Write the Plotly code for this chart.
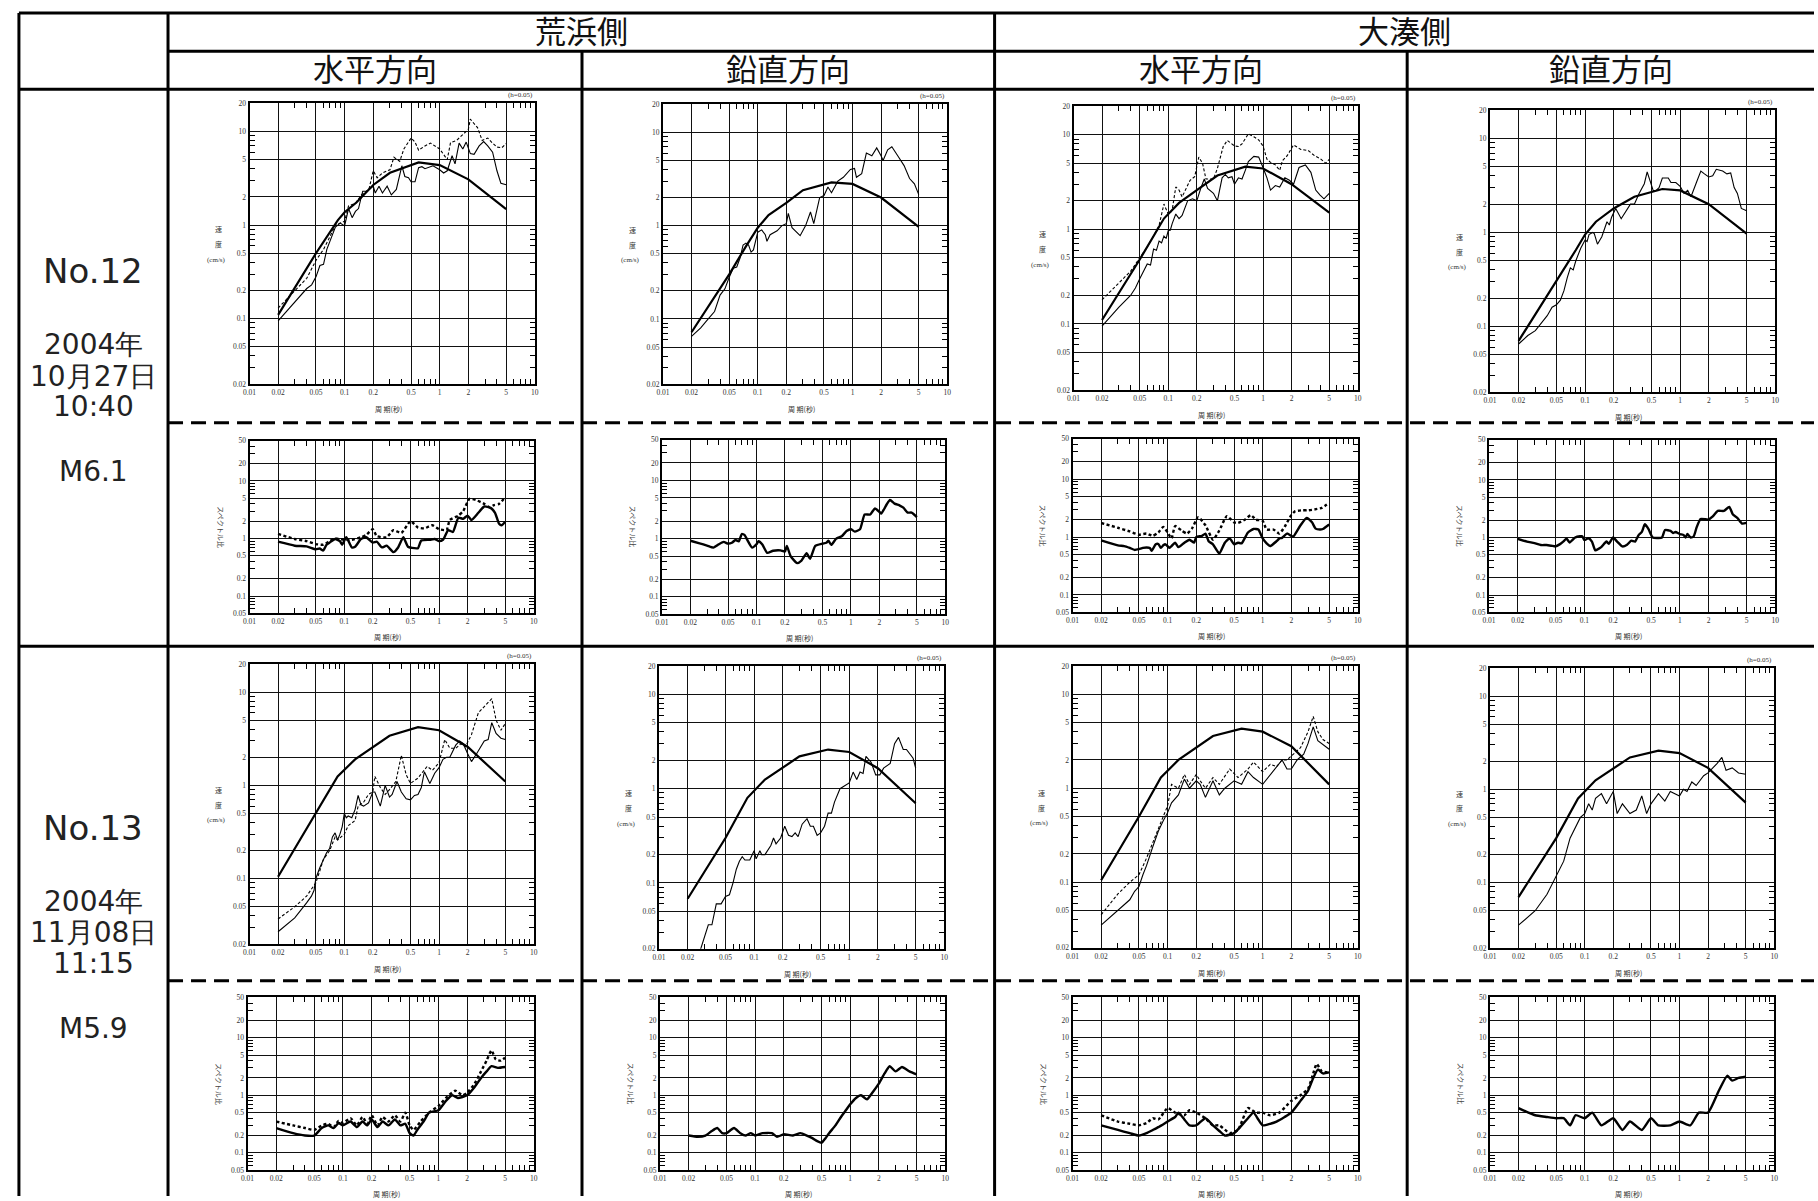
import math
import plotly.graph_objects as go

W, H = 1818, 1201

# ---------------- text ----------------
SIDES = ["荒浜側", "大湊側"]
DIRECTIONS = ["水平方向", "鉛直方向", "水平方向", "鉛直方向"]
EVENT_12 = ["No.12", "2004年", "10月27日", "10:40", "M6.1"]
EVENT_13 = ["No.13", "2004年", "11月08日", "11:15", "M5.9"]
DAMPING = "(h=0.05)"
X_TITLE = "周 期(秒)"
RATIO_TITLE = "スペクトル比"
VEL_TITLE = ["速", "度", "(cm/s)"]

X_TICKS = [0.01, 0.02, 0.05, 0.1, 0.2, 0.5, 1, 2, 5, 10]
X_TICK_TEXT = ["0.01", "0.02", "0.05", "0.1", "0.2", "0.5", "1", "2", "5", "10"]
SPEC_Y_TICKS = [0.02, 0.05, 0.1, 0.2, 0.5, 1, 2, 5, 10, 20]
SPEC_Y_TEXT = ["0.02", "0.05", "0.1", "0.2", "0.5", "1", "2", "5", "10", "20"]
RATIO_Y_TICKS = [0.05, 0.1, 0.2, 0.5, 1, 2, 5, 10, 20, 50]
RATIO_Y_TEXT = ["0.05", "0.1", "0.2", "0.5", "1", "2", "5", "10", "20", "50"]

# ---------------- data: (period [s], value) ----------------
# No.12  荒浜側 水平
E12_AH_DESIGN = [(0.02, 0.11), (0.05, 0.5), (0.085, 1.13), (0.1, 1.37), (0.133, 1.74), (0.2, 2.68),
                 (0.3, 3.62), (0.6, 4.66), (1.0, 4.37), (2.0, 3.08), (5.0, 1.48)]
E12_AH_OBS1 = [(0.02, 0.095), (0.03, 0.15), (0.04, 0.21), (0.045, 0.23), (0.05, 0.28), (0.055, 0.37),
               (0.06, 0.38), (0.065, 0.55), (0.07, 0.68), (0.08, 0.95), (0.09, 1.05), (0.1, 0.98),
               (0.11, 1.5), (0.12, 1.2), (0.13, 1.4), (0.14, 1.5), (0.155, 2.3), (0.17, 2.3), (0.2, 2.6),
               (0.21, 2.2), (0.23, 2.6), (0.25, 2.2), (0.28, 2.6), (0.31, 2.1), (0.35, 2.4), (0.4, 4.3),
               (0.43, 3.3), (0.47, 3.2), (0.5, 2.9), (0.55, 2.9), (0.6, 4.1), (0.65, 4.2), (0.7, 4.0),
               (0.85, 4.3), (1.0, 3.9), (1.1, 3.6), (1.2, 3.8), (1.35, 5.5), (1.45, 4.5), (1.6, 7.5),
               (1.75, 6.5), (1.9, 7.7), (2.1, 5.8), (2.3, 5.7), (2.6, 7.0), (2.9, 7.8), (3.2, 7.0),
               (3.6, 6.0), (4.0, 3.8), (4.4, 2.8), (5.0, 2.7)]
E12_AH_OBS2 = [(0.02, 0.13), (0.03, 0.2), (0.04, 0.27), (0.05, 0.42), (0.06, 0.55), (0.07, 0.75),
               (0.08, 1.0), (0.09, 1.05), (0.1, 1.1), (0.11, 1.6), (0.13, 1.7), (0.15, 2.1), (0.18, 2.4),
               (0.2, 3.8), (0.22, 3.2), (0.25, 3.6), (0.3, 3.9), (0.33, 5.3), (0.38, 4.8), (0.42, 6.5),
               (0.5, 8.5), (0.55, 7.7), (0.6, 6.3), (0.7, 7.0), (0.8, 7.5), (1.0, 6.5), (1.1, 5.7),
               (1.2, 5.0), (1.3, 7.6), (1.5, 8.0), (1.7, 9.0), (2.0, 10.5), (2.1, 13.5), (2.5, 11.0),
               (2.8, 8.0), (3.2, 8.5), (3.6, 7.5), (4.0, 6.8), (4.5, 6.7), (5.0, 7.4)]
E12_AH_RATIO1 = [(0.02, 0.88), (0.03, 0.75), (0.04, 0.73), (0.05, 0.65), (0.055, 0.67), (0.06, 0.62),
                 (0.065, 0.78), (0.07, 0.85), (0.08, 0.98), (0.09, 0.9), (0.095, 0.78), (0.105, 1.05),
                 (0.12, 0.7), (0.13, 0.72), (0.15, 0.98), (0.17, 1.05), (0.2, 0.85), (0.22, 0.88),
                 (0.25, 0.7), (0.28, 0.75), (0.33, 0.58), (0.37, 0.7), (0.42, 1.05), (0.47, 0.72),
                 (0.55, 0.68), (0.6, 0.68), (0.65, 0.92), (0.8, 0.95), (0.9, 0.98), (1.0, 0.9),
                 (1.1, 0.95), (1.25, 1.4), (1.4, 1.3), (1.6, 2.3), (1.8, 2.2), (2.0, 2.5), (2.2, 2.1),
                 (2.6, 2.8), (3.0, 3.6), (3.5, 3.4), (3.9, 2.8), (4.3, 1.8), (4.6, 1.7), (5.0, 1.95)]
E12_AH_RATIO2 = [(0.02, 1.2), (0.03, 0.98), (0.04, 0.9), (0.05, 0.8), (0.06, 0.78), (0.07, 0.9),
                 (0.08, 1.0), (0.1, 0.95), (0.12, 0.95), (0.15, 1.05), (0.17, 1.15), (0.2, 1.45),
                 (0.22, 1.1), (0.28, 1.05), (0.33, 1.4), (0.4, 1.25), (0.5, 2.0), (0.6, 1.55), (0.7, 1.5),
                 (0.85, 1.7), (1.0, 1.45), (1.2, 1.4), (1.3, 2.1), (1.6, 2.5), (1.8, 3.0), (2.1, 4.9),
                 (2.5, 4.6), (3.0, 4.0), (3.4, 3.5), (3.8, 3.8), (4.3, 4.0), (5.0, 5.2)]

# No.12  荒浜側 鉛直
E12_AV_DESIGN = [(0.02, 0.072), (0.05, 0.30), (0.075, 0.6), (0.1, 0.95), (0.13, 1.3), (0.2, 1.75),
                 (0.3, 2.4), (0.6, 2.9), (1.0, 2.8), (2.0, 2.0), (5.0, 0.97)]
E12_AV_OBS1 = [(0.02, 0.065), (0.025, 0.08), (0.03, 0.1), (0.035, 0.12), (0.04, 0.18), (0.045, 0.21),
               (0.05, 0.28), (0.055, 0.35), (0.06, 0.36), (0.065, 0.45), (0.07, 0.62), (0.075, 0.65),
               (0.08, 0.62), (0.085, 0.52), (0.09, 0.55), (0.1, 0.85), (0.11, 0.9), (0.12, 0.8),
               (0.125, 0.68), (0.135, 0.8), (0.16, 0.88), (0.18, 1.0), (0.2, 1.05), (0.21, 1.35),
               (0.23, 0.95), (0.25, 0.88), (0.28, 0.78), (0.32, 1.0), (0.36, 1.4), (0.39, 1.05),
               (0.45, 2.0), (0.5, 2.1), (0.55, 2.6), (0.6, 2.25), (0.7, 3.0), (0.8, 3.3), (0.95, 4.0),
               (1.05, 4.1), (1.1, 3.3), (1.25, 3.6), (1.4, 6.0), (1.6, 5.6), (1.8, 6.8), (2.0, 5.6),
               (2.1, 5.0), (2.35, 6.5), (2.6, 7.0), (3.0, 5.6), (3.5, 4.4), (4.0, 3.2), (4.5, 2.8),
               (5.0, 2.15)]
E12_AV_RATIO1 = [(0.02, 0.92), (0.025, 0.83), (0.03, 0.76), (0.035, 0.7), (0.04, 0.8), (0.045, 0.88),
                 (0.05, 0.82), (0.055, 0.85), (0.06, 0.95), (0.065, 0.9), (0.07, 1.2), (0.075, 1.15),
                 (0.08, 0.95), (0.09, 0.7), (0.1, 0.8), (0.105, 0.9), (0.115, 0.8), (0.13, 0.57),
                 (0.15, 0.62), (0.18, 0.63), (0.2, 0.6), (0.21, 0.75), (0.23, 0.5), (0.27, 0.38),
                 (0.3, 0.42), (0.34, 0.56), (0.37, 0.45), (0.42, 0.75), (0.5, 0.82), (0.55, 0.85),
                 (0.58, 0.92), (0.62, 0.78), (0.7, 1.0), (0.8, 1.1), (0.9, 1.35), (1.0, 1.45),
                 (1.1, 1.32), (1.25, 1.45), (1.4, 2.6), (1.6, 2.6), (1.8, 3.3), (2.0, 2.9), (2.1, 2.7),
                 (2.4, 3.9), (2.6, 4.6), (2.9, 4.0), (3.3, 3.7), (3.6, 3.4), (4.0, 2.8), (4.4, 2.8),
                 (5.0, 2.35)]

# No.12  大湊側 水平
E12_OH_DESIGN = [(0.02, 0.11), (0.05, 0.48), (0.09, 1.3), (0.13, 1.9), (0.2, 2.6), (0.33, 3.7),
                 (0.65, 4.6), (1.0, 4.4), (2.0, 3.0), (5.0, 1.5)]
E12_OH_OBS1 = [(0.02, 0.095), (0.03, 0.15), (0.04, 0.2), (0.045, 0.24), (0.05, 0.3), (0.055, 0.37),
               (0.06, 0.43), (0.065, 0.42), (0.07, 0.62), (0.075, 0.6), (0.08, 0.75), (0.085, 0.72),
               (0.09, 0.85), (0.095, 0.8), (0.1, 0.97), (0.105, 0.98), (0.11, 1.15), (0.12, 1.45),
               (0.13, 1.3), (0.14, 1.4), (0.16, 2.0), (0.18, 2.1), (0.2, 2.0), (0.22, 2.7), (0.24, 3.4),
               (0.26, 2.7), (0.3, 2.4), (0.33, 2.0), (0.37, 3.5), (0.4, 3.8), (0.43, 3.5), (0.47, 3.6),
               (0.5, 3.0), (0.55, 3.5), (0.6, 3.4), (0.65, 4.2), (0.7, 5.2), (0.8, 5.9), (0.9, 5.8),
               (1.0, 4.5), (1.1, 3.5), (1.2, 2.6), (1.35, 2.9), (1.5, 2.8), (1.7, 3.5), (1.9, 3.3),
               (2.1, 3.0), (2.4, 4.5), (2.8, 4.8), (3.2, 4.0), (3.6, 2.6), (4.0, 2.3), (4.4, 2.1),
               (5.0, 2.4)]
E12_OH_OBS2 = [(0.02, 0.18), (0.03, 0.27), (0.04, 0.36), (0.05, 0.5), (0.06, 0.65), (0.07, 0.85),
               (0.08, 1.1), (0.09, 1.85), (0.1, 1.45), (0.105, 1.5), (0.11, 1.6), (0.12, 2.8),
               (0.13, 2.6), (0.14, 2.2), (0.17, 3.3), (0.19, 3.6), (0.21, 5.8), (0.23, 5.0), (0.25, 3.4),
               (0.3, 3.4), (0.33, 4.4), (0.38, 7.5), (0.42, 8.7), (0.5, 7.6), (0.55, 7.5), (0.6, 8.0),
               (0.7, 10.2), (0.8, 9.5), (0.9, 8.8), (1.0, 7.6), (1.1, 5.5), (1.2, 5.1), (1.35, 4.8),
               (1.5, 4.2), (1.6, 5.3), (1.8, 6.0), (2.1, 7.8), (2.5, 7.0), (3.0, 6.8), (3.5, 6.0),
               (4.0, 5.6), (4.6, 5.0), (5.0, 5.5)]
E12_OH_RATIO1 = [(0.02, 0.88), (0.03, 0.72), (0.035, 0.7), (0.04, 0.65), (0.045, 0.6), (0.05, 0.62),
                 (0.055, 0.65), (0.06, 0.66), (0.065, 0.65), (0.068, 0.58), (0.075, 0.75), (0.08, 0.76),
                 (0.085, 0.65), (0.09, 0.72), (0.095, 0.75), (0.105, 0.65), (0.11, 0.7), (0.12, 0.8),
                 (0.13, 0.67), (0.15, 0.8), (0.17, 0.9), (0.19, 0.8), (0.2, 1.0), (0.23, 1.05),
                 (0.25, 1.15), (0.27, 0.85), (0.3, 0.75), (0.35, 0.52), (0.4, 0.8), (0.45, 0.95),
                 (0.5, 0.75), (0.55, 0.8), (0.6, 0.78), (0.7, 1.2), (0.8, 1.38), (0.9, 1.35), (1.0, 0.95),
                 (1.1, 0.78), (1.2, 0.7), (1.4, 0.85), (1.5, 0.95), (1.6, 0.97), (1.8, 1.15), (2.0, 1.05),
                 (2.1, 1.02), (2.5, 1.6), (2.9, 2.15), (3.3, 1.8), (3.6, 1.4), (4.0, 1.35), (4.3, 1.38),
                 (5.0, 1.65)]
E12_OH_RATIO2 = [(0.02, 1.75), (0.03, 1.45), (0.04, 1.25), (0.05, 1.1), (0.06, 1.15), (0.07, 1.05),
                 (0.08, 1.2), (0.09, 1.5), (0.1, 1.2), (0.11, 0.95), (0.12, 1.55), (0.14, 1.3),
                 (0.16, 1.15), (0.18, 1.4), (0.21, 2.2), (0.25, 1.6), (0.3, 0.9), (0.35, 1.3), (0.42, 2.3),
                 (0.5, 1.8), (0.55, 1.75), (0.65, 2.0), (0.75, 2.4), (0.85, 2.0), (1.0, 1.9), (1.1, 1.35),
                 (1.3, 1.35), (1.5, 1.15), (1.7, 1.5), (2.0, 2.4), (2.2, 2.8), (2.6, 2.9), (3.0, 2.9),
                 (3.5, 3.0), (4.2, 3.2), (5.0, 3.9)]

# No.12  大湊側 鉛直
E12_OV_DESIGN = [(0.02, 0.07), (0.05, 0.3), (0.08, 0.65), (0.1, 0.95), (0.13, 1.3), (0.2, 1.8),
                 (0.33, 2.4), (0.65, 2.9), (1.0, 2.8), (2.0, 2.0), (5.0, 0.97)]
E12_OV_OBS1 = [(0.02, 0.065), (0.025, 0.08), (0.03, 0.09), (0.035, 0.11), (0.04, 0.13), (0.045, 0.16),
               (0.05, 0.17), (0.055, 0.19), (0.06, 0.24), (0.065, 0.33), (0.07, 0.42), (0.075, 0.4),
               (0.08, 0.5), (0.09, 0.68), (0.1, 0.83), (0.105, 0.8), (0.11, 0.95), (0.12, 1.0),
               (0.125, 0.97), (0.135, 0.75), (0.15, 0.9), (0.17, 1.3), (0.18, 1.2), (0.19, 1.45),
               (0.21, 1.8), (0.24, 1.4), (0.27, 1.7), (0.3, 2.0), (0.33, 2.0), (0.37, 2.6), (0.42, 3.3),
               (0.45, 4.4), (0.48, 3.6), (0.52, 2.8), (0.56, 2.8), (0.6, 3.0), (0.65, 3.8), (0.75, 3.8),
               (0.8, 3.4), (0.9, 3.4), (1.0, 3.1), (1.1, 2.6), (1.2, 2.8), (1.3, 2.4), (1.5, 3.5),
               (1.65, 4.5), (1.8, 4.2), (2.0, 3.9), (2.2, 4.0), (2.4, 4.7), (2.8, 4.5), (3.1, 4.2),
               (3.4, 4.3), (3.7, 3.0), (4.0, 2.6), (4.4, 1.8), (5.0, 1.7)]
E12_OV_RATIO1 = [(0.02, 0.95), (0.025, 0.85), (0.03, 0.8), (0.035, 0.74), (0.04, 0.74), (0.045, 0.72),
                 (0.05, 0.7), (0.055, 0.76), (0.06, 0.85), (0.065, 0.95), (0.07, 0.82), (0.08, 1.0),
                 (0.09, 1.05), (0.095, 1.05), (0.1, 0.9), (0.11, 0.97), (0.12, 0.85), (0.13, 0.6),
                 (0.15, 0.68), (0.17, 0.85), (0.18, 0.78), (0.2, 1.0), (0.22, 0.85), (0.25, 0.7),
                 (0.28, 0.75), (0.31, 0.88), (0.34, 0.85), (0.37, 1.1), (0.4, 1.25), (0.43, 1.7),
                 (0.47, 1.4), (0.52, 1.0), (0.6, 0.98), (0.65, 1.0), (0.7, 1.35), (0.8, 1.3), (0.85, 1.2),
                 (0.9, 1.25), (1.0, 1.15), (1.1, 1.1), (1.15, 1.0), (1.2, 1.15), (1.3, 1.0), (1.4, 1.05),
                 (1.5, 1.5), (1.65, 2.1), (2.0, 2.05), (2.2, 2.3), (2.5, 2.9), (2.9, 2.9), (3.3, 3.4),
                 (3.6, 2.5), (4.0, 2.2), (4.5, 1.75), (5.0, 1.8)]

# No.13  荒浜側 水平
E13_AH_DESIGN = [(0.02, 0.105), (0.05, 0.5), (0.085, 1.25), (0.13, 1.9), (0.3, 3.4), (0.6, 4.2),
                 (1.0, 3.9), (2.0, 2.6), (5.0, 1.1)]
E13_AH_OBS1 = [(0.02, 0.027), (0.03, 0.038), (0.04, 0.055), (0.045, 0.065), (0.048, 0.075), (0.05, 0.1),
               (0.055, 0.13), (0.06, 0.16), (0.065, 0.19), (0.07, 0.21), (0.075, 0.28), (0.08, 0.31),
               (0.085, 0.26), (0.09, 0.3), (0.095, 0.36), (0.1, 0.5), (0.105, 0.45), (0.11, 0.47),
               (0.12, 0.45), (0.13, 0.55), (0.14, 0.78), (0.15, 0.62), (0.16, 0.6), (0.18, 0.65),
               (0.2, 0.85), (0.21, 0.85), (0.24, 0.6), (0.27, 1.0), (0.3, 0.75), (0.32, 0.8), (0.36, 1.1),
               (0.4, 0.85), (0.45, 0.72), (0.5, 0.7), (0.55, 0.78), (0.6, 0.8), (0.65, 0.95), (0.7, 1.4),
               (0.75, 1.2), (0.8, 1.05), (0.9, 1.35), (1.0, 1.55), (1.1, 1.9), (1.2, 2.0), (1.3, 2.0),
               (1.5, 2.7), (1.65, 3.0), (1.8, 2.8), (2.0, 2.2), (2.2, 1.8), (2.5, 2.2), (3.0, 3.0),
               (3.3, 3.1), (3.6, 4.7), (4.0, 3.6), (4.5, 3.2), (5.0, 3.1)]
E13_AH_OBS2 = [(0.02, 0.037), (0.03, 0.05), (0.04, 0.065), (0.05, 0.09), (0.055, 0.12), (0.06, 0.16),
               (0.07, 0.2), (0.08, 0.28), (0.085, 0.26), (0.1, 0.3), (0.11, 0.37), (0.12, 0.4),
               (0.13, 0.42), (0.14, 0.6), (0.16, 0.66), (0.18, 0.8), (0.2, 0.85), (0.21, 1.25),
               (0.24, 0.95), (0.27, 0.8), (0.3, 0.9), (0.35, 1.1), (0.4, 2.1), (0.45, 1.3), (0.5, 1.05),
               (0.6, 1.2), (0.75, 1.6), (0.85, 1.45), (1.0, 1.75), (1.15, 3.1), (1.3, 2.5), (1.5, 2.5),
               (1.7, 2.8), (1.9, 2.6), (2.2, 3.5), (2.6, 6.0), (3.0, 7.0), (3.6, 8.5), (4.0, 5.0),
               (4.5, 3.9), (5.0, 4.6)]
E13_AH_RATIO1 = [(0.02, 0.27), (0.03, 0.22), (0.04, 0.2), (0.05, 0.2), (0.06, 0.27), (0.07, 0.3),
                 (0.08, 0.27), (0.09, 0.33), (0.1, 0.3), (0.12, 0.35), (0.14, 0.28), (0.16, 0.35),
                 (0.18, 0.3), (0.2, 0.38), (0.23, 0.28), (0.26, 0.35), (0.3, 0.3), (0.35, 0.38),
                 (0.4, 0.3), (0.45, 0.32), (0.5, 0.22), (0.55, 0.2), (0.6, 0.25), (0.7, 0.35),
                 (0.8, 0.5), (1.0, 0.55), (1.2, 0.8), (1.4, 1.0), (1.6, 0.9), (2.0, 1.0), (2.4, 1.4),
                 (2.8, 2.0), (3.2, 2.6), (3.6, 3.2), (4.2, 3.0), (5.0, 3.1)]
E13_AH_RATIO2 = [(0.02, 0.35), (0.03, 0.3), (0.04, 0.27), (0.05, 0.25), (0.06, 0.3), (0.07, 0.32),
                 (0.08, 0.28), (0.09, 0.36), (0.1, 0.33), (0.12, 0.4), (0.14, 0.3), (0.16, 0.42),
                 (0.18, 0.32), (0.2, 0.45), (0.23, 0.3), (0.26, 0.42), (0.3, 0.35), (0.35, 0.45),
                 (0.4, 0.35), (0.45, 0.5), (0.5, 0.3), (0.55, 0.25), (0.65, 0.35), (0.8, 0.5),
                 (1.0, 0.65), (1.2, 0.9), (1.5, 1.2), (1.8, 1.0), (2.0, 1.1), (2.4, 1.6), (2.8, 2.6),
                 (3.2, 4.0), (3.6, 6.0), (4.0, 4.2), (4.5, 4.0), (5.0, 4.5)]

# No.13  荒浜側 鉛直
E13_AV_DESIGN = [(0.02, 0.068), (0.05, 0.3), (0.085, 0.8), (0.13, 1.25), (0.3, 2.2), (0.6, 2.6),
                 (1.0, 2.45), (2.0, 1.65), (5.0, 0.7)]
E13_AV_OBS1 = [(0.027, 0.019), (0.03, 0.027), (0.033, 0.036), (0.036, 0.036), (0.04, 0.06), (0.045, 0.06),
               (0.05, 0.072), (0.055, 0.075), (0.06, 0.1), (0.065, 0.14), (0.07, 0.17), (0.075, 0.19),
               (0.08, 0.175), (0.09, 0.175), (0.1, 0.22), (0.105, 0.18), (0.115, 0.22), (0.12, 0.2),
               (0.13, 0.2), (0.15, 0.25), (0.16, 0.3), (0.17, 0.26), (0.19, 0.3), (0.21, 0.4),
               (0.23, 0.32), (0.25, 0.31), (0.27, 0.34), (0.29, 0.31), (0.32, 0.42), (0.36, 0.48),
               (0.39, 0.4), (0.42, 0.4), (0.46, 0.32), (0.5, 0.34), (0.55, 0.4), (0.6, 0.55),
               (0.65, 0.55), (0.7, 0.72), (0.8, 1.0), (1.0, 1.15), (1.1, 1.5), (1.2, 1.25), (1.3, 1.5),
               (1.4, 1.45), (1.5, 2.2), (1.7, 1.9), (1.9, 1.4), (2.1, 1.4), (2.3, 1.65), (2.7, 1.85),
               (3.0, 3.0), (3.3, 3.5), (3.7, 2.6), (4.0, 2.6), (4.4, 2.3), (4.7, 2.1), (5.0, 1.65)]
E13_AV_RATIO1 = [(0.02, 0.2), (0.025, 0.19), (0.03, 0.2), (0.035, 0.24), (0.04, 0.27), (0.045, 0.22),
                 (0.05, 0.22), (0.06, 0.27), (0.07, 0.22), (0.08, 0.2), (0.09, 0.22), (0.1, 0.2),
                 (0.12, 0.22), (0.15, 0.22), (0.17, 0.19), (0.2, 0.21), (0.25, 0.2), (0.3, 0.22),
                 (0.35, 0.2), (0.4, 0.18), (0.45, 0.16), (0.5, 0.15), (0.55, 0.18), (0.6, 0.22),
                 (0.7, 0.3), (0.8, 0.42), (0.9, 0.55), (1.0, 0.7), (1.15, 0.9), (1.3, 1.0), (1.5, 0.85),
                 (1.7, 1.1), (2.0, 1.6), (2.3, 2.4), (2.6, 3.2), (3.0, 2.6), (3.5, 3.1), (4.2, 2.6),
                 (5.0, 2.3)]

# No.13  大湊側 水平
E13_OH_DESIGN = [(0.02, 0.105), (0.05, 0.5), (0.085, 1.3), (0.13, 2.0), (0.3, 3.6), (0.6, 4.3),
                 (1.0, 4.0), (2.0, 2.8), (5.0, 1.1)]
E13_OH_OBS1 = [(0.02, 0.035), (0.03, 0.05), (0.04, 0.065), (0.045, 0.08), (0.05, 0.09), (0.055, 0.12),
               (0.06, 0.15), (0.07, 0.24), (0.08, 0.35), (0.09, 0.45), (0.1, 0.55), (0.11, 0.7),
               (0.13, 0.85), (0.15, 1.25), (0.17, 1.0), (0.2, 1.2), (0.22, 1.1), (0.25, 0.8), (0.3, 1.2),
               (0.35, 0.85), (0.4, 1.0), (0.5, 1.2), (0.6, 1.1), (0.7, 1.5), (0.8, 1.3), (1.0, 1.1),
               (1.2, 1.4), (1.4, 1.7), (1.6, 2.0), (1.8, 1.6), (2.0, 1.6), (2.3, 2.0), (2.7, 2.3),
               (3.0, 3.0), (3.4, 4.5), (3.8, 3.2), (4.3, 2.9), (5.0, 2.6)]
E13_OH_OBS2 = [(0.02, 0.045), (0.03, 0.075), (0.04, 0.1), (0.05, 0.12), (0.06, 0.18), (0.07, 0.27),
               (0.08, 0.38), (0.09, 0.5), (0.1, 0.65), (0.11, 1.1), (0.13, 1.0), (0.15, 1.4),
               (0.17, 1.1), (0.2, 1.4), (0.22, 1.2), (0.25, 1.0), (0.3, 1.3), (0.35, 1.1), (0.45, 1.6),
               (0.55, 1.3), (0.7, 1.6), (0.8, 1.9), (1.0, 1.5), (1.2, 1.8), (1.4, 1.7), (1.6, 2.0),
               (1.8, 2.0), (2.1, 2.3), (2.5, 2.7), (3.0, 4.0), (3.4, 5.8), (3.8, 4.0), (4.3, 3.3),
               (5.0, 3.0)]
E13_OH_RATIO1 = [(0.02, 0.3), (0.03, 0.25), (0.04, 0.22), (0.05, 0.2), (0.06, 0.22), (0.07, 0.25),
                 (0.08, 0.28), (0.1, 0.35), (0.12, 0.42), (0.13, 0.5), (0.15, 0.38), (0.17, 0.3),
                 (0.2, 0.3), (0.25, 0.4), (0.3, 0.3), (0.35, 0.24), (0.4, 0.2), (0.5, 0.22), (0.6, 0.3),
                 (0.7, 0.4), (0.8, 0.5), (0.9, 0.38), (1.0, 0.3), (1.2, 0.32), (1.4, 0.35), (1.7, 0.42),
                 (2.0, 0.5), (2.5, 0.8), (3.0, 1.2), (3.4, 2.0), (3.8, 2.8), (4.3, 2.4), (5.0, 2.5)]
E13_OH_RATIO2 = [(0.02, 0.45), (0.03, 0.35), (0.04, 0.32), (0.05, 0.3), (0.06, 0.33), (0.07, 0.4),
                 (0.08, 0.38), (0.1, 0.6), (0.12, 0.5), (0.15, 0.45), (0.17, 0.55), (0.2, 0.5),
                 (0.25, 0.4), (0.3, 0.3), (0.35, 0.3), (0.45, 0.22), (0.55, 0.25), (0.7, 0.6),
                 (0.85, 0.5), (1.0, 0.5), (1.2, 0.45), (1.5, 0.5), (2.0, 0.8), (2.5, 1.0), (3.0, 1.3),
                 (3.4, 2.4), (3.7, 3.5), (4.2, 2.6), (5.0, 2.5)]

# No.13  大湊側 鉛直
E13_OV_DESIGN = [(0.02, 0.07), (0.05, 0.3), (0.085, 0.8), (0.13, 1.25), (0.3, 2.2), (0.6, 2.6),
                 (1.0, 2.45), (2.0, 1.7), (5.0, 0.72)]
E13_OV_OBS1 = [(0.02, 0.035), (0.03, 0.05), (0.04, 0.075), (0.05, 0.12), (0.06, 0.17), (0.07, 0.3),
               (0.08, 0.4), (0.09, 0.5), (0.1, 0.55), (0.11, 0.7), (0.12, 0.6), (0.13, 0.8), (0.15, 0.9),
               (0.17, 0.7), (0.2, 0.95), (0.22, 0.55), (0.25, 0.7), (0.3, 0.55), (0.35, 0.6),
               (0.4, 0.85), (0.45, 0.55), (0.5, 0.7), (0.6, 0.9), (0.7, 0.75), (0.8, 0.95), (1.0, 0.85),
               (1.1, 1.0), (1.2, 0.95), (1.35, 1.2), (1.5, 1.1), (1.8, 1.4), (2.0, 1.5), (2.5, 1.9),
               (2.8, 2.2), (3.1, 1.6), (3.6, 1.7), (4.2, 1.5), (5.0, 1.45)]
E13_OV_RATIO1 = [(0.02, 0.6), (0.03, 0.45), (0.04, 0.42), (0.05, 0.4), (0.06, 0.4), (0.07, 0.3),
                 (0.08, 0.45), (0.1, 0.4), (0.12, 0.5), (0.15, 0.3), (0.2, 0.4), (0.25, 0.25),
                 (0.3, 0.35), (0.4, 0.25), (0.5, 0.4), (0.6, 0.3), (0.8, 0.3), (1.0, 0.35), (1.3, 0.3),
                 (1.6, 0.5), (2.0, 0.5), (2.6, 1.2), (3.2, 2.2), (3.6, 1.8), (4.2, 2.0), (5.0, 2.1)]

# ---------------- layout geometry (pixels) ----------------
SPEC_BOX = {
    (0, 0): (244, 531, 100, 383), (0, 1): (660, 946, 101, 383),
    (0, 2): (1073, 1359, 103, 389), (0, 3): (1492, 1779, 107, 391),
    (1, 0): (244, 530, 665, 947), (1, 1): (656, 943, 667, 952),
    (1, 2): (1072, 1359, 667, 951), (1, 3): (1492, 1778, 669, 951),
}
RATIO_BOX = {
    (0, 0): (244, 530, 440, 614), (0, 1): (659, 944, 439, 615),
    (0, 2): (1072, 1359, 438, 613), (0, 3): (1491, 1779, 439, 613),
    (1, 0): (242, 530, 1001, 1175), (1, 1): (657, 944, 1001, 1175),
    (1, 2): (1072, 1359, 1001, 1175), (1, 3): (1492, 1778, 1001, 1175),
}

SPEC_SERIES = {
    (0, 0): (E12_AH_DESIGN, E12_AH_OBS1, E12_AH_OBS2),
    (0, 1): (E12_AV_DESIGN, E12_AV_OBS1, None),
    (0, 2): (E12_OH_DESIGN, E12_OH_OBS1, E12_OH_OBS2),
    (0, 3): (E12_OV_DESIGN, E12_OV_OBS1, None),
    (1, 0): (E13_AH_DESIGN, E13_AH_OBS1, E13_AH_OBS2),
    (1, 1): (E13_AV_DESIGN, E13_AV_OBS1, None),
    (1, 2): (E13_OH_DESIGN, E13_OH_OBS1, E13_OH_OBS2),
    (1, 3): (E13_OV_DESIGN, E13_OV_OBS1, None),
}
RATIO_SERIES = {
    (0, 0): (E12_AH_RATIO1, E12_AH_RATIO2),
    (0, 1): (E12_AV_RATIO1, None),
    (0, 2): (E12_OH_RATIO1, E12_OH_RATIO2),
    (0, 3): (E12_OV_RATIO1, None),
    (1, 0): (E13_AH_RATIO1, E13_AH_RATIO2),
    (1, 1): (E13_AV_RATIO1, None),
    (1, 2): (E13_OH_RATIO1, E13_OH_RATIO2),
    (1, 3): (E13_OV_RATIO1, None),
}


def px(x):
    return x / W


def py(y):
    return 1 - y / H


def minor_vals(lo, hi):
    out = []
    for e in range(-3, 3):
        for m in (3, 4, 6, 7, 8, 9):
            v = round(m * 10 ** e, 6)
            if lo < v < hi:
                out.append(v)
    return out


TICK_FONT = dict(family="Liberation Serif", size=7.5, color="#333333")
SMALL_CJK = dict(family="Noto Sans CJK JP", size=7, color="#333333")


def log_axis(tickvals, ticktext, lo, hi, domain, anchor):
    return dict(
        type="log", range=[math.log10(lo), math.log10(hi)], domain=domain, anchor=anchor,
        tickmode="array", tickvals=tickvals, ticktext=ticktext,
        showgrid=True, gridcolor="#111111", gridwidth=1.1,
        showline=True, linecolor="black", linewidth=2, mirror="allticks",
        ticks="inside", ticklen=0, tickcolor="black",
        minor=dict(tickmode="array", tickvals=minor_vals(lo, hi), ticks="inside",
                   ticklen=5, tickwidth=1, tickcolor="black", showgrid=False),
        tickfont=TICK_FONT, zeroline=False, fixedrange=True,
    )


fig = go.Figure()
layout = {}
annotations = []
n = 0


def unzip(pairs):
    return [p[0] for p in pairs], [p[1] for p in pairs]


def add_panel(box, series_specs, y_ticks, y_text, ylo, yhi, kind):
    global n
    n += 1
    x0, x1, y0, y1 = box
    xa, ya = ("x" if n == 1 else f"x{n}"), ("y" if n == 1 else f"y{n}")
    layout["xaxis" if n == 1 else f"xaxis{n}"] = log_axis(
        X_TICKS, X_TICK_TEXT, 0.01, 10, [px(x0), px(x1)], ya)
    layout["yaxis" if n == 1 else f"yaxis{n}"] = log_axis(
        y_ticks, y_text, ylo, yhi, [py(y1), py(y0)], xa)
    for data, width, dash, shape in series_specs:
        if data is None:
            continue
        xs, ys = unzip(data)
        fig.add_trace(go.Scatter(
            x=xs, y=ys, mode="lines", xaxis=xa, yaxis=ya, showlegend=False, hoverinfo="skip",
            line=dict(color="black", width=width, dash=dash, shape=shape,
                      smoothing=0.5 if shape == "spline" else None)))
    cx = (x0 + x1) / 2 - 4
    annotations.append(dict(x=px(cx), y=py(y1 + (25 if kind == "spec" else 24)), text=X_TITLE,
                            font=SMALL_CJK))
    h = y1 - y0
    if kind == "spec":
        annotations.append(dict(x=px(x1), y=py(y0 - 8), text=DAMPING, xanchor="right",
                                font=dict(family="Liberation Serif", size=7, color="#333333")))
        annotations.append(dict(x=px(x0 - 31), y=py(y0 + 0.449 * h), text=VEL_TITLE[0], font=SMALL_CJK))
        annotations.append(dict(x=px(x0 - 31), y=py(y0 + 0.502 * h), text=VEL_TITLE[1], font=SMALL_CJK))
        annotations.append(dict(x=px(x0 - 33), y=py(y0 + 0.558 * h), text=VEL_TITLE[2],
                                font=dict(family="Liberation Serif", size=7, color="#333333")))
    else:
        annotations.append(dict(x=px(x0 - 29), y=py(y0 + 0.5 * h), text=RATIO_TITLE, textangle=90,
                                font=dict(family="Noto Sans CJK JP", size=7, color="#444444")))


for ev in range(2):
    for col in range(4):
        design, obs1, obs2 = SPEC_SERIES[(ev, col)]
        add_panel(SPEC_BOX[(ev, col)],
                  [(design, 2.2, "solid", "linear"),
                   (obs1, 1.1, "solid", "linear"),
                   (obs2, 1.1, "3px,2px", "linear")],
                  SPEC_Y_TICKS, SPEC_Y_TEXT, 0.02, 20, "spec")
        r1, r2 = RATIO_SERIES[(ev, col)]
        add_panel(RATIO_BOX[(ev, col)],
                  [(r1, 2.4, "solid", "spline"),
                   (r2, 2.4, "3px,2.5px", "spline")],
                  RATIO_Y_TICKS, RATIO_Y_TEXT, 0.05, 50, "ratio")

# ---------------- table frame ----------------
TOP, HDR_MID, HDR_BOT, ROW_DIV = 9, 47.5, 86, 647
DASH_ROWS = [422, 984]
LEFT, LABEL_COL, SIDE_DIV, RIGHT = 12, 162, 993.6, 1818
DIR_DIVS = [578.5, 1408.7]

shapes = []


def hline(xa, xb, y, dash="solid"):
    shapes.append(dict(type="line", xref="paper", yref="paper", x0=px(xa), x1=px(xb), y0=py(y), y1=py(y),
                       line=dict(color="black", width=3, dash=dash)))


def vline(x, ya, yb):
    shapes.append(dict(type="line", xref="paper", yref="paper", x0=px(x), x1=px(x), y0=py(ya), y1=py(yb),
                       line=dict(color="black", width=3)))


hline(LEFT, RIGHT, TOP)
hline(LABEL_COL, RIGHT, HDR_MID)
hline(LEFT, RIGHT, HDR_BOT)
hline(LEFT, RIGHT, ROW_DIV)
for yd in DASH_ROWS:
    hline(LABEL_COL, RIGHT, yd, dash="15px,8px")
vline(LEFT, TOP, H)
vline(LABEL_COL, TOP, H)
vline(SIDE_DIV, TOP, H)
for xd in DIR_DIVS:
    vline(xd, HDR_MID, H)

# headers
HDR_FONT = dict(family="Noto Sans CJK JP", size=31, color="#111111")
side_centers = [(LABEL_COL + SIDE_DIV) / 2, (SIDE_DIV + RIGHT) / 2]
for s, c in zip(SIDES, side_centers):
    annotations.append(dict(x=px(c), y=py((TOP + HDR_MID) / 2 - 3), text=s, font=HDR_FONT))
dir_edges = [LABEL_COL, DIR_DIVS[0], SIDE_DIV, DIR_DIVS[1], RIGHT]
for i, d in enumerate(DIRECTIONS):
    c = (dir_edges[i] + dir_edges[i + 1]) / 2
    annotations.append(dict(x=px(c), y=py((HDR_MID + HDR_BOT) / 2 - 3), text=d, font=HDR_FONT))

# event labels
LBL_X = (LEFT + LABEL_COL) / 2
LBL_FONT_BIG = dict(family="DejaVu Sans", size=34, color="#222222")
LBL_FONT = dict(family="DejaVu Sans", size=28, color="#222222")
for labels, base in ((EVENT_12, HDR_BOT), (EVENT_13, ROW_DIV)):
    offs = [183, 257, 289, 320, 385]
    for i, (t, o) in enumerate(zip(labels, offs)):
        annotations.append(dict(x=px(LBL_X), y=py(base + o), text=t,
                                font=LBL_FONT_BIG if i == 0 else LBL_FONT))

for a in annotations:
    a.setdefault("xref", "paper")
    a.setdefault("yref", "paper")
    a.setdefault("showarrow", False)
    a.setdefault("xanchor", "center")
    a.setdefault("yanchor", "middle")

fig.update_layout(
    width=W, height=H, margin=dict(l=0, r=0, t=0, b=0, pad=0),
    paper_bgcolor="white", plot_bgcolor="white", showlegend=False,
    shapes=shapes, annotations=annotations, **layout,
)

fig.write_html("out.html")
